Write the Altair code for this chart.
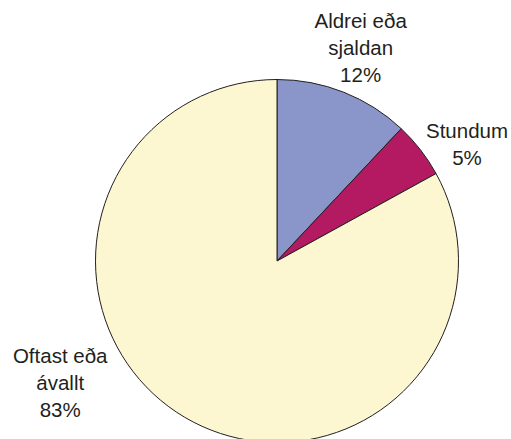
import altair as alt
import pandas as pd

categories = ["Aldrei eða sjaldan", "Stundum", "Oftast eða ávallt"]
labels = ["Aldrei eða\nsjaldan\n12%", "Stundum\n5%", "Oftast eða\návallt\n83%"]
values = [12, 5, 83]
order = [0, 1, 2]
colors = ["#8A95C9", "#B41A61", "#FCF7D0"]

df = pd.DataFrame({"cat": categories, "label": labels, "value": values, "idx": order})

CX, CY, R = 277, 261, 181.5
FONT = "Liberation Sans"

base = alt.Chart(df)

pie = base.mark_arc(outerRadius=R, stroke="#231F20", strokeWidth=1).encode(
    theta=alt.Theta("value:Q", stack=True, scale=alt.Scale(domain=[0, 100])),
    order=alt.Order("idx:Q"),
    color=alt.Color("cat:N", scale=alt.Scale(domain=categories, range=colors), legend=None),
    x=alt.value(CX),
    y=alt.value(CY),
)

lab_base = base.transform_window(
    cum="sum(value)", sort=[alt.SortField("idx")], frame=[None, 0]
).transform_calculate(mid="datum.cum - datum.value / 2")

offsets = {
    "Aldrei eða sjaldan": (10, -47),
    "Stundum": (32, 0),
    "Oftast eða ávallt": (-115, -70),
}

text_layers = []
for c in categories:
    dx, dy = offsets[c]
    t = lab_base.transform_filter(alt.datum.cat == c).mark_text(
        radius=200, dx=dx, dy=dy, align="center", baseline="alphabetic",
        lineBreak="\n", lineHeight=27, font=FONT, fontSize=20.5, color="#231F20",
    ).encode(
        theta=alt.Theta("mid:Q", stack=False, scale=alt.Scale(domain=[0, 100])),
        text="label:N",
        x=alt.value(CX),
        y=alt.value(CY),
    )
    text_layers.append(t)

chart = alt.layer(pie, *text_layers).properties(
    width=511, height=439, padding=0, autosize=alt.AutoSizeParams(type="none")
).configure_view(stroke=None)

chart.save("out.html", embed_options={"renderer": "svg", "actions": False})
